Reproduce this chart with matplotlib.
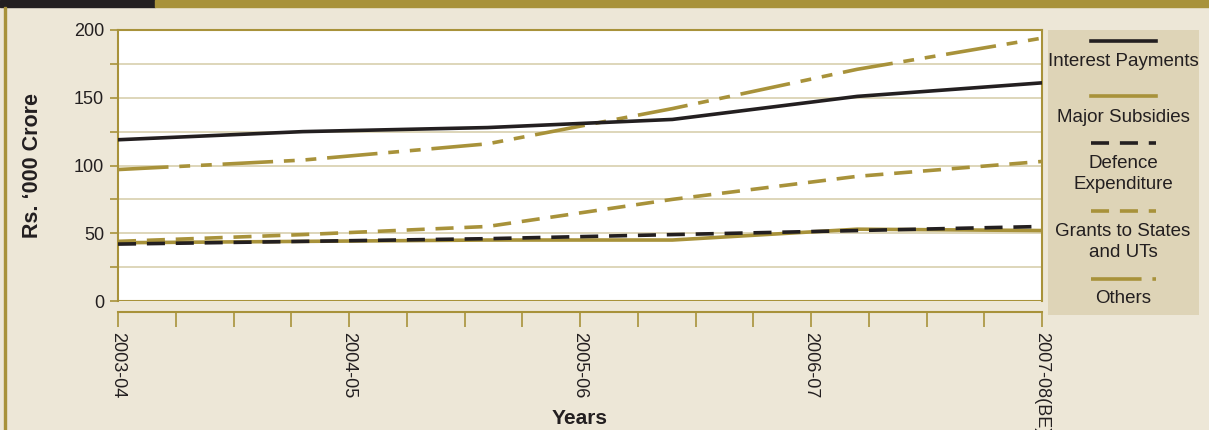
import matplotlib
matplotlib.use('Agg')
import matplotlib.pyplot as plt
from matplotlib.patches import Rectangle
from matplotlib.lines import Line2D

# Data (Rs. '000 crore), six readings per series across the span
years = ['2003-04', '2004-05', '2005-06', '2006-07', '2007-08(BE)']
points = [0, 1, 2, 3, 4, 5]
interest = [119, 125, 128, 134, 151, 161]
subsidies = [43, 44, 45, 45, 53, 52]
defence = [42, 44, 46, 49, 52, 55]
grants = [44, 49, 55, 75, 92, 103]
others = [97, 104, 116, 142, 171, 194]

W, H = 1209, 430
BG = '#ede7d7'
GOLD = '#a8923a'
DARK = '#231f20'
GRID = '#d8cfae'
LEG_BG = '#ded4b7'

plt.rcParams['font.family'] = ['Liberation Sans Narrow', 'Liberation Sans', 'DejaVu Sans']

fig = plt.figure(figsize=(W / 100, H / 100), dpi=100, facecolor=BG)


def fx(px):
    return px / W


def fy(py):
    return 1 - py / H


# header strip and left border
fig.patches.append(Rectangle((0, fy(7)), fx(155), 7 / H, transform=fig.transFigure,
                             color=DARK, zorder=0))
fig.patches.append(Rectangle((fx(155), fy(7)), 1 - fx(155), 7 / H, transform=fig.transFigure,
                             color=GOLD, zorder=0))
fig.patches.append(Rectangle((fx(4), 0), 2 / W, fy(7), transform=fig.transFigure,
                             color=GOLD, zorder=0))

# main plot
left, right, top, bottom = 118, 1042, 30, 301
ax = fig.add_axes([fx(left), fy(bottom), fx(right - left), (bottom - top) / H])
ax.set_facecolor('white')

ax.plot(points, others, color=GOLD, lw=2.6, dashes=[14, 3, 3, 3, 3, 3], zorder=3)
ax.plot(points, grants, color=GOLD, lw=2.6, dashes=[5, 3], zorder=3)
ax.plot(points, subsidies, color=GOLD, lw=2.6, solid_capstyle='butt', zorder=3)
ax.plot(points, defence, color=DARK, lw=2.6, dashes=[5, 3], zorder=4)
ax.plot(points, interest, color=DARK, lw=2.6, zorder=4)

ax.set_xlim(0, 5)
ax.set_ylim(0, 200)
ax.set_yticks(range(0, 201, 25))
ax.set_yticklabels([str(v) if v % 50 == 0 else '' for v in range(0, 201, 25)])
ax.grid(axis='y', color=GRID, lw=1.2, zorder=1)
ax.axhline(0, color=GOLD, lw=1.5, zorder=2)

ax.set_xticks([i * 1.25 for i in range(5)])
ax.set_xticks([i * 0.3125 for i in range(17)], minor=True)
ax.set_xticklabels(years)

for s in ['top', 'left', 'right', 'bottom']:
    ax.spines[s].set_color(GOLD)
    ax.spines[s].set_linewidth(1.5)
ax.spines['bottom'].set_position(('outward', 8))

ax.tick_params(axis='y', direction='out', length=6, width=1.2, color=GOLD,
               labelsize=13, labelcolor=DARK, pad=4)
ax.tick_params(axis='x', which='both', direction='out', length=11, width=1.2, color=GOLD)
ax.tick_params(axis='x', which='major', labelsize=13, labelcolor=DARK, pad=3,
               labelrotation=-90)
for t in ax.get_xticklabels():
    t.set_ha('center')
    t.set_va('top')
    t.set_rotation_mode('default')

fig.text(fx(580), fy(418), 'Years', ha='center', va='center',
         fontsize=15, fontweight='bold', color=DARK)
fig.text(fx(33), fy(166), 'Rs. \u2018000 Crore', rotation=90, ha='center', va='center',
         fontsize=15.5, fontweight='bold', color=DARK)

# legend box with handles centred above the labels
lg = fig.add_axes([fx(1048), fy(315), fx(1199 - 1048), (315 - 30) / H])
lg.set_facecolor(LEG_BG)
lg.set_xlim(1048, 1199)
lg.set_ylim(315, 30)
lg.set_xticks([])
lg.set_yticks([])
for s in lg.spines.values():
    s.set_visible(False)

entries = [
    ('Interest Payments', DARK, None, 41, [62]),
    ('Major Subsidies', GOLD, None, 96, [118]),
    ('Defence\nExpenditure', DARK, [5, 3], 143, [164, 185]),
    ('Grants to States\nand UTs', GOLD, [5, 3], 211, [232, 253]),
    ('Others', GOLD, [14, 3, 3, 3, 3, 3], 279, [299]),
]
for label, col, dash, ly, tys in entries:
    ln = Line2D([1091, 1156], [ly, ly], color=col, lw=2.6)
    if dash:
        ln.set_dashes(dash)
    lg.add_line(ln)
    for txt, ty in zip(label.split('\n'), tys):
        lg.text(1123, ty, txt, ha='center', va='center', fontsize=13.5, color=DARK)

fig.savefig('out.png', dpi=100, facecolor=BG)
